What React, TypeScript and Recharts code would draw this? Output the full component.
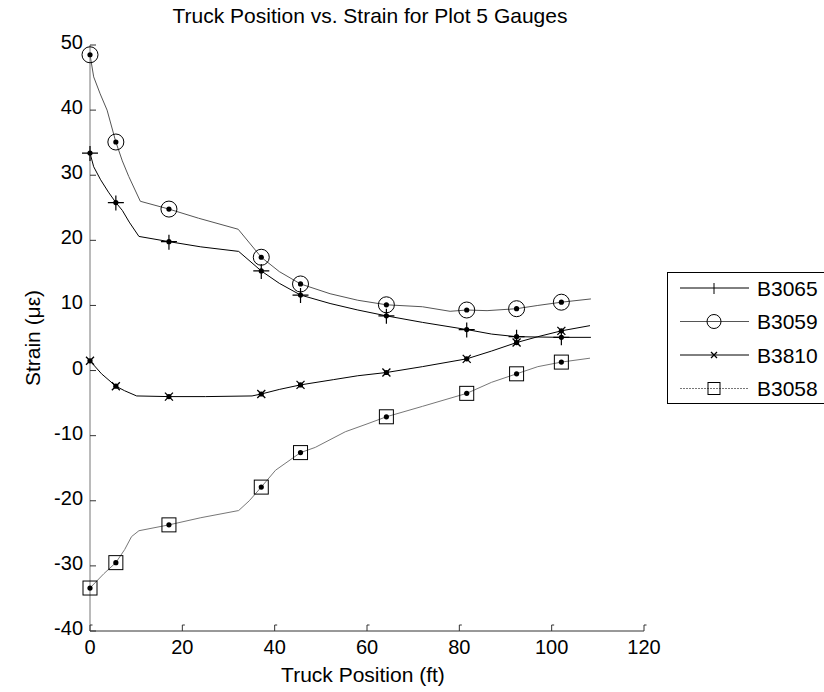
import { Line, LineChart, XAxis, YAxis } from "recharts";

// marker positions (truck stops) shared by every gauge
const MARKER_X = [0, 5.6, 17.1, 37.1, 45.6, 64.2, 81.6, 92.4, 102.1];

const X_TICKS = [0, 20, 40, 60, 80, 100, 120];
const Y_TICKS = [-40, -30, -20, -10, 0, 10, 20, 30, 40, 50];

const B3065: [number, number][] = [
  [0, 33.4], [0.8, 31.3], [2.3, 29.3], [4, 27.4], [5.6, 25.8], [7, 24.6], [8.5, 22.8],
  [10.6, 20.6], [17.1, 19.8], [24, 19.0], [32.2, 18.3], [37.1, 15.3], [41, 13.4],
  [45.6, 11.6], [52, 10.3], [58, 9.3], [64.2, 8.4], [72, 7.4], [81.6, 6.3], [87, 5.6],
  [92.4, 5.2], [102.1, 5.1], [108.5, 5.1],
];

const B3059: [number, number][] = [
  [0, 48.5], [0.8, 45.1], [2.2, 42.5], [3.7, 40], [5.6, 35.1], [7, 32.2], [8.4, 29.8],
  [10.9, 26.0], [17.1, 24.8], [23.5, 23.4], [32.1, 21.7], [37.1, 17.4], [41, 15.2],
  [45.6, 13.3], [52, 11.8], [58, 10.8], [64.2, 10.1], [72, 9.8], [78, 9.1], [81.6, 9.3],
  [86, 9.2], [92.4, 9.5], [97, 10.0], [102.1, 10.5], [108.5, 11.0],
];

const B3810: [number, number][] = [
  [0, 1.5], [2.5, -0.5], [5.6, -2.4], [7.5, -3.1], [10.1, -3.9], [17.1, -4.0], [25, -4.0],
  [35.1, -3.9], [37.1, -3.6], [41, -2.9], [45.6, -2.2], [52.7, -1.4], [58, -0.8],
  [64.2, -0.3], [72, 0.6], [81.6, 1.8], [87, 3.0], [92.4, 4.3], [97, 5.2], [102.1, 6.1],
  [108.3, 6.9],
];

const B3058: [number, number][] = [
  [0, -33.4], [3, -31.2], [5.6, -29.5], [7.5, -27.5], [9, -25.5], [10.6, -24.6],
  [17.1, -23.7], [24, -22.6], [32.2, -21.5], [34.5, -20.0], [37.1, -17.9], [40.2, -15.3],
  [45.6, -12.6], [48.8, -11.8], [55.3, -9.4], [60, -8.2], [64.2, -7.1], [72, -5.5],
  [81.6, -3.5], [87, -1.8], [92.4, -0.5], [97, 0.6], [102.1, 1.3], [108.3, 1.9],
];

type Kind = "plus" | "circle" | "cross" | "square";

const SERIES: { name: string; pts: [number, number][]; color: string; kind: Kind; dash?: string }[] = [
  { name: "B3065", pts: B3065, color: "#000", kind: "plus" },
  { name: "B3059", pts: B3059, color: "#555", kind: "circle" },
  { name: "B3810", pts: B3810, color: "#000", kind: "cross" },
  { name: "B3058", pts: B3058, color: "#777", kind: "square", dash: "2 1" },
];

const W = 824;
const H = 692;
const AXIS_X = 90;
const AXIS_Y = 631;
const FONT = '"Liberation Sans", Arial, Helvetica, sans-serif';

function Marker({ kind, cx, cy, small }: { kind: Kind; cx: number; cy: number; small?: boolean }) {
  const s = "#000";
  let shape = null;
  if (kind === "plus") {
    shape = small ? (
      <path d={`M${cx},${cy - 5}V${cy + 6}`} stroke={s} strokeWidth={1} />
    ) : (
      <path d={`M${cx - 8},${cy}H${cx + 8}M${cx},${cy - 7}V${cy + 8}`} stroke={s} strokeWidth={1.2} />
    );
  } else if (kind === "circle") {
    shape = <circle cx={cx} cy={cy} r={small ? 7 : 8} fill="none" stroke={s} strokeWidth={1} />;
  } else if (kind === "cross") {
    const d = small ? 3 : 4;
    shape = (
      <path d={`M${cx - d},${cy - d}L${cx + d},${cy + d}M${cx - d},${cy + d}L${cx + d},${cy - d}`} stroke={s} strokeWidth={1.3} />
    );
  } else {
    const d = small ? 6 : 7;
    shape = <rect x={cx - d} y={cy - d} width={2 * d} height={2 * d} fill="none" stroke={s} strokeWidth={1} />;
  }
  return (
    <g>
      {shape}
      {!small && <circle cx={cx} cy={cy} r={2.6} fill="#000" />}
    </g>
  );
}

const makeDot = (kind: Kind, name: string) => (p: any) => {
  const { cx, cy, payload, index } = p;
  if (!MARKER_X.includes(payload.x)) return <g key={`${name}-e-${index}`} />;
  return (
    <g key={`${name}-m-${index}`}>
      <Marker kind={kind} cx={cx} cy={cy} />
    </g>
  );
};

const XTick = (p: any) => {
  const { x, payload } = p;
  return (
    <g>
      <path d={`M${x},${AXIS_Y}v-6h2.5`} stroke="#333" fill="none" strokeWidth={1} />
      <text x={x} y={AXIS_Y + 16} textAnchor="middle" dominantBaseline="central" fontSize={20} fontFamily={FONT} fill="#000">
        {payload.value}
      </text>
    </g>
  );
};

const YTick = (p: any) => {
  const { y, payload } = p;
  return (
    <g>
      <path d={`M${AXIS_X},${y}h6`} stroke="#333" strokeWidth={1} />
      <text x={AXIS_X - 7} y={y - 3} textAnchor="end" dominantBaseline="central" fontSize={20} fontFamily={FONT} fill="#000">
        {payload.value}
      </text>
    </g>
  );
};

export default function App() {
  return (
    <div style={{ position: "absolute", left: 0, top: 0, width: W, height: H, background: "#fff", overflow: "hidden" }}>
      <LineChart width={W} height={H} margin={{ top: 45, right: 180, bottom: 0, left: 0 }}>
        <XAxis
          type="number"
          dataKey="x"
          domain={[0, 120]}
          ticks={X_TICKS}
          interval={0}
          height={61}
          tickLine={false}
          axisLine={{ stroke: "#333" }}
          tick={<XTick />}
        />
        <YAxis
          type="number"
          domain={[-40, 50]}
          ticks={Y_TICKS}
          interval={0}
          width={AXIS_X}
          tickLine={false}
          axisLine={{ stroke: "#777" }}
          tick={<YTick />}
        />
        {SERIES.map((s) => (
          <Line
            key={s.name}
            name={s.name}
            data={s.pts.map(([x, y]) => ({ x, y }))}
            dataKey="y"
            type="linear"
            stroke={s.color}
            strokeWidth={1}
            dot={makeDot(s.kind, s.name)}
            activeDot={false}
            isAnimationActive={false}
          />
        ))}
      </LineChart>
      <svg width={W} height={H} style={{ position: "absolute", left: 0, top: 0, pointerEvents: "none" }}>
        <text x={370} y={15} textAnchor="middle" dominantBaseline="central" fontSize={21} fontFamily={FONT}>
          Truck Position vs. Strain for Plot 5 Gauges
        </text>
        <text x={363} y={674} textAnchor="middle" dominantBaseline="central" fontSize={21} fontFamily={FONT}>
          Truck Position (ft)
        </text>
        <text
          x={32}
          y={338}
          textAnchor="middle"
          dominantBaseline="central"
          fontSize={21}
          fontFamily={FONT}
          transform="rotate(-90 32 338)"
        >
          Strain (με)
        </text>
        <g>
          <rect x={667.5} y={272.5} width={200} height={131} fill="#fff" stroke="#000" strokeWidth={1} />
          {SERIES.map((s, i) => {
            const cy = 288 + i * 33.5;
            return (
              <g key={s.name}>
                <path d={`M680,${cy}H749`} stroke={s.color} strokeWidth={1} strokeDasharray={s.dash} />
                <Marker kind={s.kind} cx={714} cy={cy} small />
                <text x={757} y={cy} dominantBaseline="central" fontSize={21} fontFamily={FONT}>
                  {s.name}
                </text>
              </g>
            );
          })}
        </g>
      </svg>
    </div>
  );
}
